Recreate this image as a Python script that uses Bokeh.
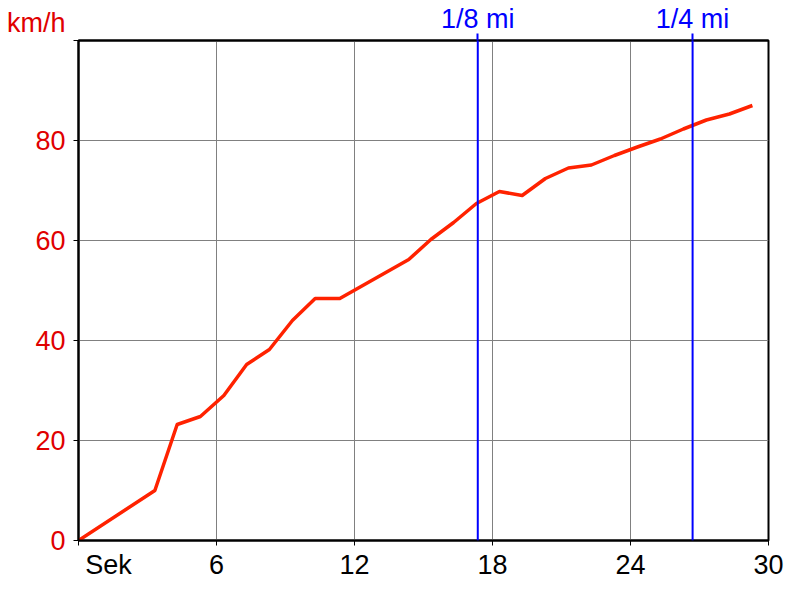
from bokeh.plotting import figure
from bokeh.models import Range1d, FixedTicker, Span, LinearAxis
from bokeh.embed import file_html
from bokeh.resources import INLINE

# data
time_s = [0, 3.32, 4.29, 5.3, 6.32, 7.31, 8.3, 9.3, 10.29, 11.36, 12.36, 13.36,
          14.36, 15.32, 16.31, 17.3, 18.3, 19.29, 20.3, 21.3, 22.3, 23.3, 24.3,
          25.3, 26.3, 27.3, 28.3, 29.3]
speed_kmh = [0, 10, 23.2, 24.8, 29, 35.2, 38.2, 44, 48.4, 48.4, 51, 53.6, 56.2,
             60.2, 63.6, 67.4, 69.8, 69, 72.4, 74.5, 75.1, 77, 78.7, 80.3, 82.3,
             84.1, 85.3, 87]
x_ticks = [0, 6, 12, 18, 24, 30]
y_ticks = [0, 20, 40, 60, 80, 100]
marker_pos = [17.36, 26.7]
marker_labels = ["1/8 mi", "1/4 mi"]
x_first_label = "Sek"
y_unit = "km/h"

FONT = "Liberation Sans"
FS = "27px"
NB = "\u00a0"

p = figure(width=784, height=584, output_backend="svg", toolbar_location=None,
           x_range=Range1d(0, 30), y_range=Range1d(0, 100),
           min_border_left=78, min_border_right=16, min_border_top=40,
           min_border_bottom=44)

p.outline_line_color = "black"
p.outline_line_width = 2
p.outline_line_alpha = 1
p.background_fill_color = "white"
p.border_fill_color = "white"

# grid
p.xgrid.ticker = FixedTicker(ticks=x_ticks)
p.ygrid.ticker = FixedTicker(ticks=y_ticks)
for g in (p.xgrid, p.ygrid):
    g.grid_line_color = "#808080"
    g.grid_line_width = 1

# x axis
xa = p.xaxis[0]
xa.ticker = FixedTicker(ticks=x_ticks)
xa.major_label_overrides = {0: NB * 8 + x_first_label}
xa.major_label_text_font = FONT
xa.major_label_text_font_size = FS
xa.major_label_text_color = "black"
xa.major_label_standoff = 4
xa.axis_line_color = "black"
xa.axis_line_width = 2
xa.major_tick_out = 5
xa.major_tick_in = 0
xa.major_tick_line_color = "black"
xa.minor_tick_line_color = None

# y axis
ya = p.yaxis[0]
ya.ticker = FixedTicker(ticks=y_ticks)
ya.major_label_overrides = {100: y_unit + "\n" + NB}
ya.major_label_text_font = FONT
ya.major_label_text_font_size = FS
ya.major_label_text_color = "#e00000"
ya.major_label_standoff = 8
ya.axis_line_color = "black"
ya.axis_line_width = 2
ya.major_tick_out = 5
ya.major_tick_in = 0
ya.major_tick_line_color = "black"
ya.minor_tick_line_color = None

# top axis: blue marker ticks and labels
ta = LinearAxis(ticker=FixedTicker(ticks=marker_pos),
                major_label_overrides=dict(zip(marker_pos, marker_labels)),
                major_label_standoff=0,
                major_label_text_font=FONT, major_label_text_font_size=FS,
                major_label_text_color="blue",
                axis_line_color="black", axis_line_width=2,
                major_tick_out=7, major_tick_in=0,
                major_tick_line_color="blue", major_tick_line_width=2,
                minor_tick_line_color=None)
p.add_layout(ta, "above")

# marker lines
for m in marker_pos:
    p.add_layout(Span(location=m, dimension="height", line_color="blue",
                      line_width=2))

# speed curve
p.line(time_s, speed_kmh, line_color="#ff2200", line_width=3.5,
       line_join="round")

open("out.html", "w").write(file_html(p, INLINE))
